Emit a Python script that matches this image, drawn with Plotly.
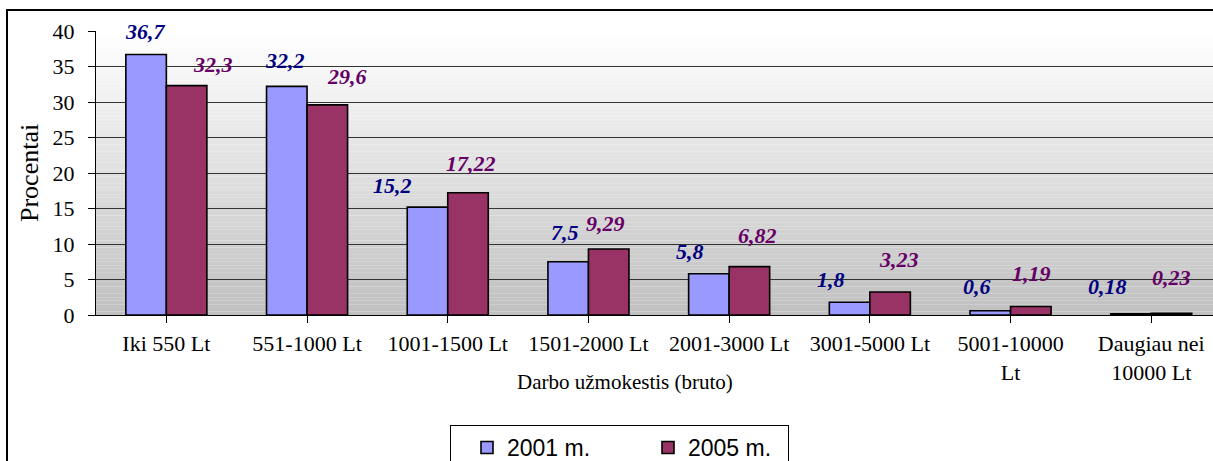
import plotly.graph_objects as go

# ---- data ----
categories = ["Iki 550 Lt", "551-1000 Lt", "1001-1500 Lt", "1501-2000 Lt",
              "2001-3000 Lt", "3001-5000 Lt", "5001-10000<br>Lt", "Daugiau nei<br>10000 Lt"]
series_names = ["2001 m.", "2005 m."]
values_2001 = [36.7, 32.2, 15.2, 7.5, 5.8, 1.8, 0.6, 0.18]
values_2005 = [32.3, 29.6, 17.22, 9.29, 6.82, 3.23, 1.19, 0.23]
labels_2001 = ["36,7", "32,2", "15,2", "7,5", "5,8", "1,8", "0,6", "0,18"]
labels_2005 = ["32,3", "29,6", "17,22", "9,29", "6,82", "3,23", "1,19", "0,23"]
y_ticks = [0, 5, 10, 15, 20, 25, 30, 35, 40]

# ---- label placement tweaks (pixels) ----
dx_2001 = [-1, -2, -35, -3, -19, -19, -13, -23]
dy_2001 = [23, 26, 22, 29, 22, 23, 24, 27]
dx_2005 = [26, 20, 3, -3, 8, 9, 1, 0]
dy_2005 = [21, 28, 29, 26, 31, 33, 33, 36]

SERIF = "Liberation Serif, Times New Roman, serif"
SANS = "Liberation Sans, Arial, sans-serif"
C1, C2 = "#9999FF", "#993366"
L1, L2 = "#000080", "#660066"

W, H = 1213, 461
ML, MR, MT, MB = 96, 0, 31, 146
PW, PH = W - ML - MR, H - MT - MB
CAT_PX = 140.7
BARGAP = 0.424

x_idx = list(range(len(categories)))

fig = go.Figure()
fig.add_trace(go.Bar(x=x_idx, y=values_2001, name=series_names[0], legendwidth=120,
                     marker=dict(color=C1, line=dict(color="black", width=1.6))))
fig.add_trace(go.Bar(x=x_idx, y=values_2005, name=series_names[1], legendwidth=95,
                     marker=dict(color=C2, line=dict(color="black", width=1.6))))

# gradient background (white at top -> silver at bottom)
N = 80
ymax = y_ticks[-1]
shapes = []
for k in range(N):
    t = k / (N - 1)
    g = int(round(192 + (255 - 192) * t))
    shapes.append(dict(type="rect", xref="paper", yref="y", x0=0, x1=1,
                       y0=ymax * k / N, y1=ymax * (k + 1) / N + 0.01,
                       fillcolor=f"rgb({g},{g},{g})", line=dict(width=0), layer="below"))
# outer chart frame
shapes.append(dict(type="rect", xref="paper", yref="paper",
                   x0=(7 - ML) / PW, x1=1.2, y0=-2, y1=1 + (MT - 10) / PH,
                   line=dict(color="black", width=2), fillcolor="rgba(0,0,0,0)", layer="above"))

# value labels
off = (1 - BARGAP) / 4
annotations = []
for i in x_idx:
    annotations.append(dict(x=i - off, y=values_2001[i], xref="x", yref="y",
                            text=f"<b><i>{labels_2001[i]}</i></b>",
                            showarrow=False, xanchor="center", yanchor="middle",
                            xshift=dx_2001[i], yshift=dy_2001[i],
                            font=dict(family=SERIF, size=22, color=L1)))
    annotations.append(dict(x=i + off, y=values_2005[i], xref="x", yref="y",
                            text=f"<b><i>{labels_2005[i]}</i></b>",
                            showarrow=False, xanchor="center", yanchor="middle",
                            xshift=dx_2005[i], yshift=dy_2005[i],
                            font=dict(family=SERIF, size=22, color=L2)))
# axis titles
annotations.append(dict(text="Darbo užmokestis (bruto)", xref="paper", yref="paper",
                        x=(625 - ML) / PW, y=(MT + PH - 382) / PH, showarrow=False,
                        xanchor="center", yanchor="middle",
                        font=dict(family=SERIF, size=21, color="black")))
annotations.append(dict(text="Procentai", xref="paper", yref="paper",
                        x=(29 - ML) / PW, y=0.5, showarrow=False, textangle=-90,
                        xanchor="center", yanchor="middle",
                        font=dict(family=SERIF, size=26, color="black")))

fig.update_layout(
    width=W, height=H,
    margin=dict(l=ML, r=MR, t=MT, b=MB, pad=0, autoexpand=False),
    paper_bgcolor="white",
    plot_bgcolor="rgba(0,0,0,0)",
    barmode="group", bargap=BARGAP, bargroupgap=0,
    shapes=shapes, annotations=annotations,
    showlegend=True,
    legend=dict(orientation="h", x=(450 - ML) / PW, xanchor="left",
                y=(MT + PH - 425) / PH, yanchor="top",
                bordercolor="black", borderwidth=1, bgcolor="white",
                font=dict(family=SANS, size=23, color="black"),
                indentation=16, entrywidthmode="pixels", traceorder="normal"),
    font=dict(family=SERIF, color="black"),
)
fig.update_xaxes(
    tickmode="array", tickvals=x_idx, ticktext=categories,
    range=[-0.5, -0.5 + PW / CAT_PX], automargin=False,
    showline=True, linecolor="black", linewidth=1,
    ticks="outside", ticklen=7, tickcolor="black", tickson="boundaries",
    tickfont=dict(family=SERIF, size=22, color="black"),
    ticklabelstandoff=2,
    showgrid=False, zeroline=False,
)
fig.update_yaxes(
    range=[0, ymax], tickvals=y_ticks, automargin=False,
    showline=True, linecolor="black", linewidth=1,
    ticks="outside", ticklen=7, tickcolor="black",
    tickfont=dict(family=SERIF, size=22, color="black"),
    ticklabelstandoff=9,
    showgrid=True, gridcolor="#333333", gridwidth=1, zeroline=False,
)

fig.write_html("out.html", config={"displayModeBar": False},
               post_script="document.body.style.margin='0';document.body.style.overflow='hidden';")
